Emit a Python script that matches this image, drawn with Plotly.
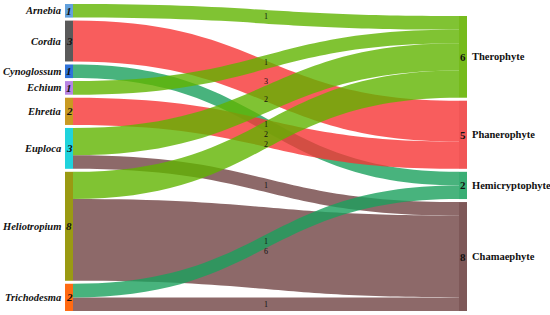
import plotly.graph_objects as go

# ---------------- data ----------------
genera = ["Arnebia", "Cordia", "Cynoglossum", "Echium", "Ehretia",
          "Euploca", "Heliotropium", "Trichodesma"]
life_forms = ["Therophyte", "Phanerophyte", "Hemicryptophyte", "Chamaephyte"]

link_source = ["Arnebia", "Cordia", "Cynoglossum", "Echium", "Ehretia",
               "Euploca", "Euploca", "Heliotropium", "Heliotropium",
               "Trichodesma", "Trichodesma"]
link_target = ["Therophyte", "Phanerophyte", "Hemicryptophyte", "Therophyte",
               "Phanerophyte", "Therophyte", "Chamaephyte", "Therophyte",
               "Chamaephyte", "Hemicryptophyte", "Chamaephyte"]
link_value = [1, 3, 1, 1, 2, 2, 1, 2, 6, 1, 1]

genus_colors = ["#62a0dc", "#5a5a5a", "#2f72d8", "#b784e4", "#c99a22",
                "#1fd3dc", "#9a9a12", "#ff6a12"]
form_node_colors = ["#76bb1c", "#f15656", "#3aae74", "#7e5858"]
form_link_colors = ["rgba(96,180,0,0.8)", "rgba(246,52,52,0.8)",
                    "rgba(26,160,92,0.8)", "rgba(112,68,68,0.8)"]

# ---------------- geometry ----------------
W_FIG, H_FIG = 550, 315
ML, MR, MT, MB = 65, 83, 4, 4
W = W_FIG - ML - MR
H = H_FIG - MT - MB
PAD = 3
THICK = 8

genus_tot = [sum(v for s, v in zip(link_source, link_value) if s == g) for g in genera]
form_tot = [sum(v for t, v in zip(link_target, link_value) if t == f) for f in life_forms]
total = sum(link_value)
unit = (H - (len(genera) - 1) * PAD) / total

# node tops (pixels inside domain)
g_top, y = [], 0.0
for t in genus_tot:
    g_top.append(y)
    y += t * unit + PAD
f_top = []
y = H - (total * unit + (len(life_forms) - 1) * PAD)
for t in form_tot:
    f_top.append(y)
    y += t * unit + PAD

node_labels = genera + life_forms
node_x = [THICK / 2 / W] * len(genera) + [1 - THICK / 2 / W] * len(life_forms)
node_y = ([(g_top[i] + genus_tot[i] * unit / 2) / H for i in range(len(genera))] +
          [(f_top[i] + form_tot[i] * unit / 2) / H for i in range(len(life_forms))])

idx = {n: i for i, n in enumerate(node_labels)}

# draw order: links grouped by target (bottom groups first, Therophyte on top)
draw_order = sorted(range(len(link_value)),
                    key=lambda k: -life_forms.index(link_target[k]))

fig = go.Figure(go.Sankey(
    arrangement="fixed",
    domain=dict(x=[0, 1], y=[0, 1]),
    node=dict(
        label=[""] * len(node_labels),
        x=node_x, y=node_y,
        pad=PAD, thickness=THICK,
        color=genus_colors + form_node_colors,
        line=dict(width=0),
    ),
    link=dict(
        source=[idx[link_source[k]] for k in draw_order],
        target=[idx[link_target[k]] for k in draw_order],
        value=[link_value[k] for k in draw_order],
        color=[form_link_colors[life_forms.index(link_target[k])] for k in draw_order],
    ),
))

def px(x):
    return (x - ML) / W

def py(y):
    return 1 - (y - MT) / H

ann = []
FONT = "Liberation Serif"
for i, g in enumerate(genera):
    cy = MT + g_top[i] + genus_tot[i] * unit / 2
    ann.append(dict(x=px(ML - 2), y=py(cy), text="<b><i>%s</i></b>" % g,
                    xanchor="right", yanchor="middle", showarrow=False,
                    font=dict(family=FONT, size=10.5, color="#111")))
    ann.append(dict(x=px(ML + THICK / 2), y=py(cy), text="<b><i>%d</i></b>" % genus_tot[i],
                    xanchor="center", yanchor="middle", showarrow=False,
                    font=dict(family=FONT, size=11, color="#111")))
for i, f in enumerate(life_forms):
    cy = MT + f_top[i] + form_tot[i] * unit / 2
    ann.append(dict(x=px(ML + W - THICK / 2), y=py(cy), text="<b>%d</b>" % form_tot[i],
                    xanchor="center", yanchor="middle", showarrow=False,
                    font=dict(family=FONT, size=11, color="#111")))
    ann.append(dict(x=px(ML + W + 3), y=py(cy), text="<b>%s</b>" % f,
                    xanchor="left", yanchor="middle", showarrow=False,
                    font=dict(family=FONT, size=10.5, color="#111")))

# link value labels at the middle of each link band
src_off = {g: 0.0 for g in genera}
tgt_off = {f: 0.0 for f in life_forms}
src_mid, tgt_mid = {}, {}
for k in sorted(range(len(link_value)),
                key=lambda k: (genera.index(link_source[k]), life_forms.index(link_target[k]))):
    g = link_source[k]
    h = link_value[k] * unit
    src_mid[k] = g_top[genera.index(g)] + src_off[g] + h / 2
    src_off[g] += h
for k in sorted(range(len(link_value)),
                key=lambda k: (life_forms.index(link_target[k]), genera.index(link_source[k]))):
    f = link_target[k]
    h = link_value[k] * unit
    tgt_mid[k] = f_top[life_forms.index(f)] + tgt_off[f] + h / 2
    tgt_off[f] += h

mids = sorted(((src_mid[k] + tgt_mid[k]) / 2, k) for k in range(len(link_value)))
last = -100
for m, k in mids:
    m = max(m, last + 10)
    last = m
    ann.append(dict(x=px(ML + W / 2), y=py(MT + m), text="%d" % link_value[k],
                    xanchor="center", yanchor="middle", showarrow=False,
                    font=dict(family=FONT, size=8, color="#111")))

fig.update_layout(
    width=W_FIG, height=H_FIG,
    margin=dict(l=ML, r=MR, t=MT, b=MB),
    paper_bgcolor="white", plot_bgcolor="white",
    annotations=ann,
    showlegend=False,
)
fig.write_html("out.html", config={"displayModeBar": False},
               post_script="document.body.style.margin='0px';")
